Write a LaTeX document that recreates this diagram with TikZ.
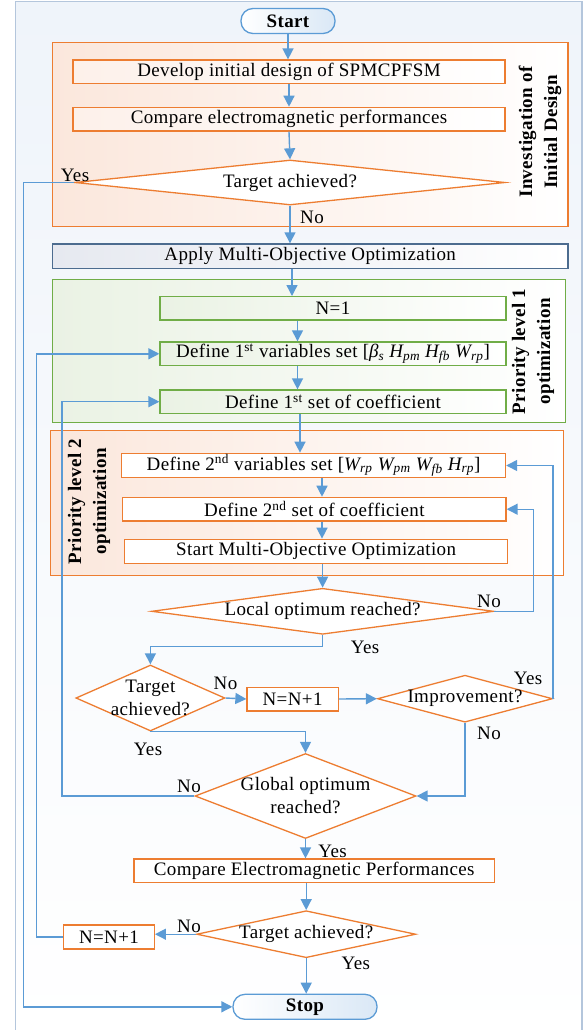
\documentclass[tikz,border=0pt]{standalone}
\usepackage{fontspec}
\setmainfont{Liberation Serif}[LetterSpace=2]
\usetikzlibrary{shapes.geometric,arrows.meta,calc}
\definecolor{ablue}{HTML}{5B9BD5}
\definecolor{oorange}{HTML}{ED7D31}
\definecolor{ggreen}{HTML}{70AD47}
\definecolor{frameblue}{HTML}{B4C6DC}
\definecolor{slate}{HTML}{4C6C8F}
\definecolor{peach}{HTML}{FBE7DC}
\definecolor{lgreen}{HTML}{EAF2E4}
\definecolor{lslate}{HTML}{E6E9F0}
\definecolor{lblue}{HTML}{DAE8F6}
\definecolor{skyfill}{HTML}{EFF4FA}
\tikzset{
  base/.style={font=\fontsize{19}{23}\selectfont, inner sep=0pt},
  txt/.style={base, align=center},
  term/.style={base, draw=ablue, line width=1.3pt, rounded corners=12pt, left color=white, right color=lblue, minimum height=25pt},
  obox/.style={base, draw=oorange, line width=1.3pt, fill=white, minimum height=24pt},
  pbox/.style={base, draw=oorange, line width=1.3pt, left color=peach!60, right color=white, minimum height=24pt},
  gbox/.style={base, draw=ggreen, line width=1.3pt, left color=lgreen, right color=white, minimum height=24pt},
  dia/.style={diamond, draw=oorange, line width=1.3pt, fill=white, inner sep=0pt},
  arr/.style={draw=ablue, line width=1.4pt, -{Triangle[length=11pt,width=11pt]}},
  lbl/.style={base},
  rlbl/.style={base, font=\fontsize{19}{25}\selectfont\bfseries, rotate=90, align=center},
}
\begin{document}
\begin{tikzpicture}[x=1pt,y=-1pt]
\useasboundingbox (0,0) rectangle (585,1030);
\clip (0,0) rectangle (585,1030);
% outer frame
\node[draw=frameblue, line width=1.6pt, top color=skyfill, bottom color=white, minimum width=566.5pt, minimum height=1040pt, inner sep=0pt] (outer) at (298.75,521.7) {};
% group frames
\node[draw=oorange, line width=1.4pt, left color=peach, right color=white, minimum width=515.6pt, minimum height=184pt, inner sep=0pt] (f1) at (310.2,134.7) {};
\node[draw=ggreen, line width=1.4pt, left color=lgreen, right color=white, minimum width=513.1pt, minimum height=143pt, inner sep=0pt] (f2) at (309,350.8) {};
\node[draw=oorange, line width=1.4pt, left color=peach, right color=white, minimum width=513.1pt, minimum height=145pt, inner sep=0pt] (f3) at (307.2,503.2) {};
% group labels
\node[rlbl] (lab1) at (540,132) {Investigation of\\Initial Design};
\node[rlbl] (lab2) at (533,351.5) {Priority level 1\\optimization};
\node[rlbl] (lab3) at (89,501.5) {Priority level 2\\optimization};
% nodes
\node[term, minimum width=94pt] (start) at (288,21) {\bfseries Start};
\node[pbox, minimum width=432pt, minimum height=23.3pt] (b1) at (289,71.7) {Develop initial design of SPMCPFSM};
\node[pbox, minimum width=432pt, minimum height=23.7pt] (b2) at (289,119.2) {Compare electromagnetic performances};
\node[dia, minimum width=430pt, minimum height=45pt] (d1) at (290,182.5) {};
\node[txt] (d1t) at (d1) {Target achieved?};
\node[base, draw=slate, line width=1.5pt, left color=lslate, right color=white, minimum width=515.6pt, minimum height=24.3pt] (apply) at (310.2,256.2) {Apply Multi-Objective Optimization};
\node[gbox, minimum width=346pt, minimum height=23.3pt] (n1) at (333,308.3) {N=1};
\node[gbox, minimum width=346pt, minimum height=23.7pt] (def1) at (333,353.8) {Define 1\textsuperscript{st} variables set [{\itshape β\textsubscript{s} H\textsubscript{pm} H\textsubscript{fb} W\textsubscript{rp}}]};
\node[gbox, minimum width=346pt, minimum height=23.3pt] (def1c) at (333,401.7) {Define 1\textsuperscript{st} set of coefficient};
\node[obox, minimum width=383.9pt, minimum height=24.4pt] (def2) at (313.6,465.5) {Define 2\textsuperscript{nd} variables set [{\itshape W\textsubscript{rp} W\textsubscript{pm} W\textsubscript{fb} H\textsubscript{rp}}]};
\node[obox, minimum width=383.2pt, minimum height=23.7pt] (def2c) at (314.4,509.2) {Define 2\textsuperscript{nd} set of coefficient};
\node[obox, minimum width=382.8pt, minimum height=24pt] (smoo) at (316.1,551.3) {Start Multi-Objective Optimization};
\node[dia, minimum width=342pt, minimum height=46pt] (loc) at (322.6,611.3) {};
\node[txt] (loct) at (loc) {Local optimum reached?};
\node[dia, minimum width=149pt, minimum height=66pt] (t2) at (150.4,698) {};
\node[txt] (t2t) at (t2) {Target\\achieved?};
\node[obox, minimum width=91.2pt, minimum height=23.7pt] (nn1) at (292.6,699) {N=N+1};
\node[dia, minimum width=175pt, minimum height=47pt] (imp) at (465,698.7) {};
\node[txt] (impt) at (imp) {Improvement?};
\node[dia, minimum width=221pt, minimum height=85pt] (glob) at (305.5,796) {};
\node[txt] (globt) at (glob) {Global optimum\\reached?};
\node[obox, minimum width=360.4pt, minimum height=23.7pt] (cem) at (314.2,870.9) {Compare Electromagnetic Performances};
\node[dia, minimum width=219pt, minimum height=47pt] (t3) at (306.2,934.2) {};
\node[txt] (t3t) at (t3) {Target achieved?};
\node[obox, minimum width=90.6pt, minimum height=24pt] (nn2) at (109,937) {N=N+1};
\node[term, minimum width=144pt] (stop) at (305,1006.8) {\bfseries Stop};
% helper coordinates
\coordinate (l1) at (23.5,0);
\coordinate (l2) at (36.3,0);
\coordinate (l3) at (61.8,0);
\coordinate (r1) at (533.7,0);
\coordinate (c1) at (292,0);
\coordinate (c2) at (297.5,0);
\coordinate (c3) at (300,0);
\coordinate (c4) at (322,0);
% connectors
\draw[arr] (start.south) -- (start.south |- b1.north);
\draw[arr] (b1.south) -- (b1.south |- b2.north);
\draw[arr] (b2.south) -- (d1.north);
\draw[arr] (d1.south) -- (d1.south |- apply.north);
\draw[arr] (d1.west) -| (l1 |- stop.west) -- (stop.west);
\draw[arr] (apply.south -| c1) -- (n1.north -| c1);
\draw[arr] (n1.south -| c2) -- (def1.north -| c2);
\draw[arr] (def1.south -| c2) -- (def1c.north -| c2);
\draw[arr] (def1c.south -| c3) -- (def2.north -| c3);
\draw[arr] (def2.south -| c4) -- (def2c.north -| c4);
\draw[arr] (def2c.south -| c4) -- (smoo.north -| c4);
\draw[arr] (smoo.south -| loc.north) -- (loc.north);
\draw[arr] (loc.east) -| (r1 |- def2c.east) -- (def2c.east);
\draw[arr] (loc.south) -- ++(0,11.4) -| (t2.north);
\draw[arr] (t2.east) -- (nn1.west);
\draw[arr] (nn1.east) -- (imp.west);
\draw[arr] (imp.east) |- (def2.east);
\draw[arr] (imp.south) |- (glob.east);
\draw[arr] (t2.south) -| (glob.north);
\draw[arr] (glob.west) -| (l3 |- def1c.west) -- (def1c.west);
\draw[arr] (glob.south) -- (glob.south |- cem.north);
\draw[arr] (cem.south -| t3.north) -- (t3.north);
\draw[arr] (t3.west) -- (t3.west -| nn2.east);
\draw[arr] (nn2.west) -| (l2 |- def1.west) -- (def1.west);
\draw[arr] (t3.south) -- (t3.south |- stop.north);
% labels
\node[lbl] (y1) at (75,175) {Yes};
\node[lbl] (n1l) at (312,217) {No};
\node[lbl] (n2l) at (489,601) {No};
\node[lbl] (y2) at (365,647) {Yes};
\node[lbl] (n3l) at (225.5,683.3) {No};
\node[lbl] (y3) at (528,678.3) {Yes};
\node[lbl] (n4l) at (489,733.3) {No};
\node[lbl] (y4) at (148,749.3) {Yes};
\node[lbl] (n5l) at (189,786.7) {No};
\node[lbl] (y5) at (332.6,851.7) {Yes};
\node[lbl] (n6l) at (189,926.7) {No};
\node[lbl] (y6) at (355.8,963.3) {Yes};
\end{tikzpicture}
\end{document}
